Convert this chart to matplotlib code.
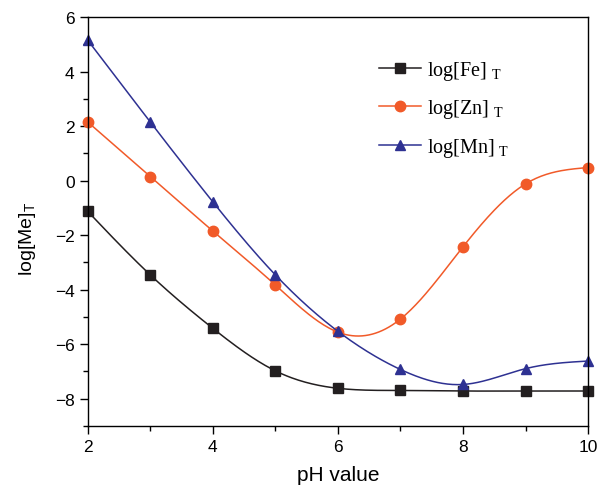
import numpy as np
import matplotlib
matplotlib.use('Agg')
import matplotlib.pyplot as plt
from matplotlib.ticker import MultipleLocator

ph = [2, 3, 4, 5, 6, 7, 8, 9, 10]
fe = [-1.13, -3.46, -5.42, -6.98, -7.62, -7.70, -7.72, -7.72, -7.72]
zn = [2.15, 0.15, -1.85, -3.83, -5.56, -5.08, -2.43, -0.12, 0.48]
mn = [5.15, 2.15, -0.78, -3.46, -5.53, -6.93, -7.48, -6.90, -6.62]


def spline(x, y, n=300):
    # natural cubic spline, so no scipy needed
    x = np.asarray(x, float)
    y = np.asarray(y, float)
    k = len(x)
    h = np.diff(x)
    A = np.zeros((k, k))
    b = np.zeros(k)
    A[0, 0] = A[-1, -1] = 1
    for i in range(1, k - 1):
        A[i, i - 1] = h[i - 1]
        A[i, i] = 2 * (h[i - 1] + h[i])
        A[i, i + 1] = h[i]
        b[i] = 6 * ((y[i + 1] - y[i]) / h[i] - (y[i] - y[i - 1]) / h[i - 1])
    m = np.linalg.solve(A, b)
    xs = np.linspace(x[0], x[-1], n)
    j = np.clip(np.searchsorted(x, xs) - 1, 0, k - 2)
    t = xs - x[j]
    hj = h[j]
    ys = (m[j] * (x[j + 1] - xs) ** 3 / (6 * hj) + m[j + 1] * t ** 3 / (6 * hj)
          + (y[j] / hj - m[j] * hj / 6) * (x[j + 1] - xs)
          + (y[j + 1] / hj - m[j + 1] * hj / 6) * t)
    return xs, ys


plt.rcParams['font.family'] = 'Liberation Sans'
plt.rcParams['mathtext.fontset'] = 'custom'
plt.rcParams['mathtext.rm'] = 'Liberation Serif'
plt.rcParams['mathtext.sf'] = 'Liberation Sans'

fig = plt.figure(figsize=(5.97, 4.89), dpi=100)
ax = fig.add_axes([0.147, 0.127, 0.838, 0.836])

series = [(fe, '#231f20', 's', r'log[Fe]$_{\rm\ T}$'),
          (zn, '#f15a29', 'o', r'log[Zn]$_{\rm\ T}$'),
          (mn, '#2e3192', '^', r'log[Mn]$_{\rm\ T}$')]
handles = []
for vals, col, mk, lab in series:
    xs, ys = spline(ph, vals)
    ax.plot(xs, ys, color=col, lw=1.1)
    ax.plot(ph, vals, ls='none', marker=mk, color=col, ms=7.5, clip_on=False)
    h, = ax.plot([], [], color=col, marker=mk, ms=7.5, lw=1.1, label=lab)
    handles.append(h)

ax.set_xlim(2, 10)
ax.set_ylim(-9, 6)
ax.xaxis.set_major_locator(MultipleLocator(2))
ax.xaxis.set_minor_locator(MultipleLocator(1))
ax.yaxis.set_major_locator(MultipleLocator(2))
ax.yaxis.set_minor_locator(MultipleLocator(1))
ax.tick_params(which='both', direction='out', labelsize=12.5, width=1)
ax.tick_params(which='major', length=6)
ax.tick_params(which='minor', length=3.5)
for s in ax.spines.values():
    s.set_linewidth(1)

ax.set_xlabel('pH value', fontsize=15, labelpad=8)
ax.set_ylabel(r'log[Me]$_{\mathsf{T}}$', fontsize=14)
ax.yaxis.set_label_coords(-0.1, 0.46)

ax.legend(handles=handles, loc='upper left', bbox_to_anchor=(0.55, 0.936),
          frameon=False, prop={'family': 'Liberation Serif', 'size': 14.5},
          handlelength=2.1, handletextpad=0.3, labelspacing=0.75, borderpad=0.3)

fig.savefig('out.png', dpi=100)
